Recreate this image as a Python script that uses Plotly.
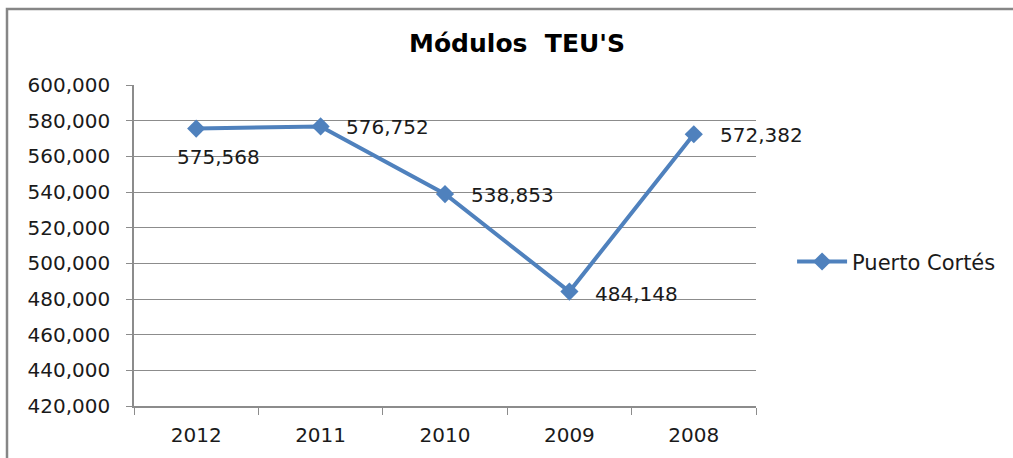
import plotly.graph_objects as go

years = ["2012", "2011", "2010", "2009", "2008"]
teus = [575568, 576752, 538853, 484148, 572382]
series_name = "Puerto Cortés"
title_text = "Módulos\u00a0 TEU'S"
y_ticks = list(range(420000, 600001, 20000))

color = "#4F81BD"
grid = "#8C8C8C"
font_fam = "DejaVu Sans"

fig = go.Figure()
fig.add_trace(go.Scatter(
    x=years, y=teus, mode="lines+markers", name=series_name,
    line=dict(color=color, width=4),
    marker=dict(symbol="diamond", size=14, color=color),
))

# data labels: (xshift, yshift, xanchor)
label_pos = [(22, -28, "center"), (23, -1, "left"), (24, -1, "left"), (24, -2, "left"), (24, -1, "left")]
for i, (yr, v, (dx, dy, xa)) in enumerate(zip(years, teus, label_pos)):
    fig.add_annotation(x=i, y=v, xref="x", yref="y", text=f"{v:,}", showarrow=False,
                       xanchor=xa, yanchor="middle", xshift=dx, yshift=dy,
                       font=dict(family=font_fam, size=20, color="#1a1a1a"))

fig.add_shape(type="rect", xref="paper", yref="paper",
              x0=(7 - 134) / 622, x1=1.6, y0=-0.3, y1=(406 - 9) / 321,
              line=dict(color="#868686", width=2.5), layer="below")

fig.update_layout(
    width=1013, height=458,
    margin=dict(l=134, r=257, t=85, b=52),
    paper_bgcolor="white", plot_bgcolor="white",
    title=dict(text=f"<b>{title_text}</b>", x=517 / 1013, xanchor="center",
               y=1 - 43 / 458, yanchor="middle", yref="container",
               font=dict(family="DejaVu Sans", size=25, color="black")),
    showlegend=True,
    legend=dict(x=1.058, y=0.449, xanchor="left", yanchor="middle",
                font=dict(family=font_fam, size=21, color="#1a1a1a"),
                itemwidth=50, bgcolor="rgba(0,0,0,0)"),
    xaxis=dict(type="category", showgrid=False, showline=True, linecolor=grid, linewidth=1.5,
               ticks="outside", tickson="boundaries", ticklen=7, tickcolor=grid,
               tickfont=dict(family=font_fam, size=20, color="#1a1a1a"),
               ticklabelstandoff=10, range=[-0.5, 4.5]),
    yaxis=dict(range=[420000, 600000], tickvals=y_ticks, tickformat=",",
               showgrid=True, gridcolor=grid, gridwidth=1,
               showline=True, linecolor=grid, linewidth=1.5,
               ticks="outside", ticklen=6, tickcolor=grid,
               tickfont=dict(family=font_fam, size=20, color="#1a1a1a"),
               ticklabelstandoff=12, zeroline=False),
)

fig.write_html("out.html", config={"displayModeBar": False},
               post_script="document.body.style.margin='0px';")
